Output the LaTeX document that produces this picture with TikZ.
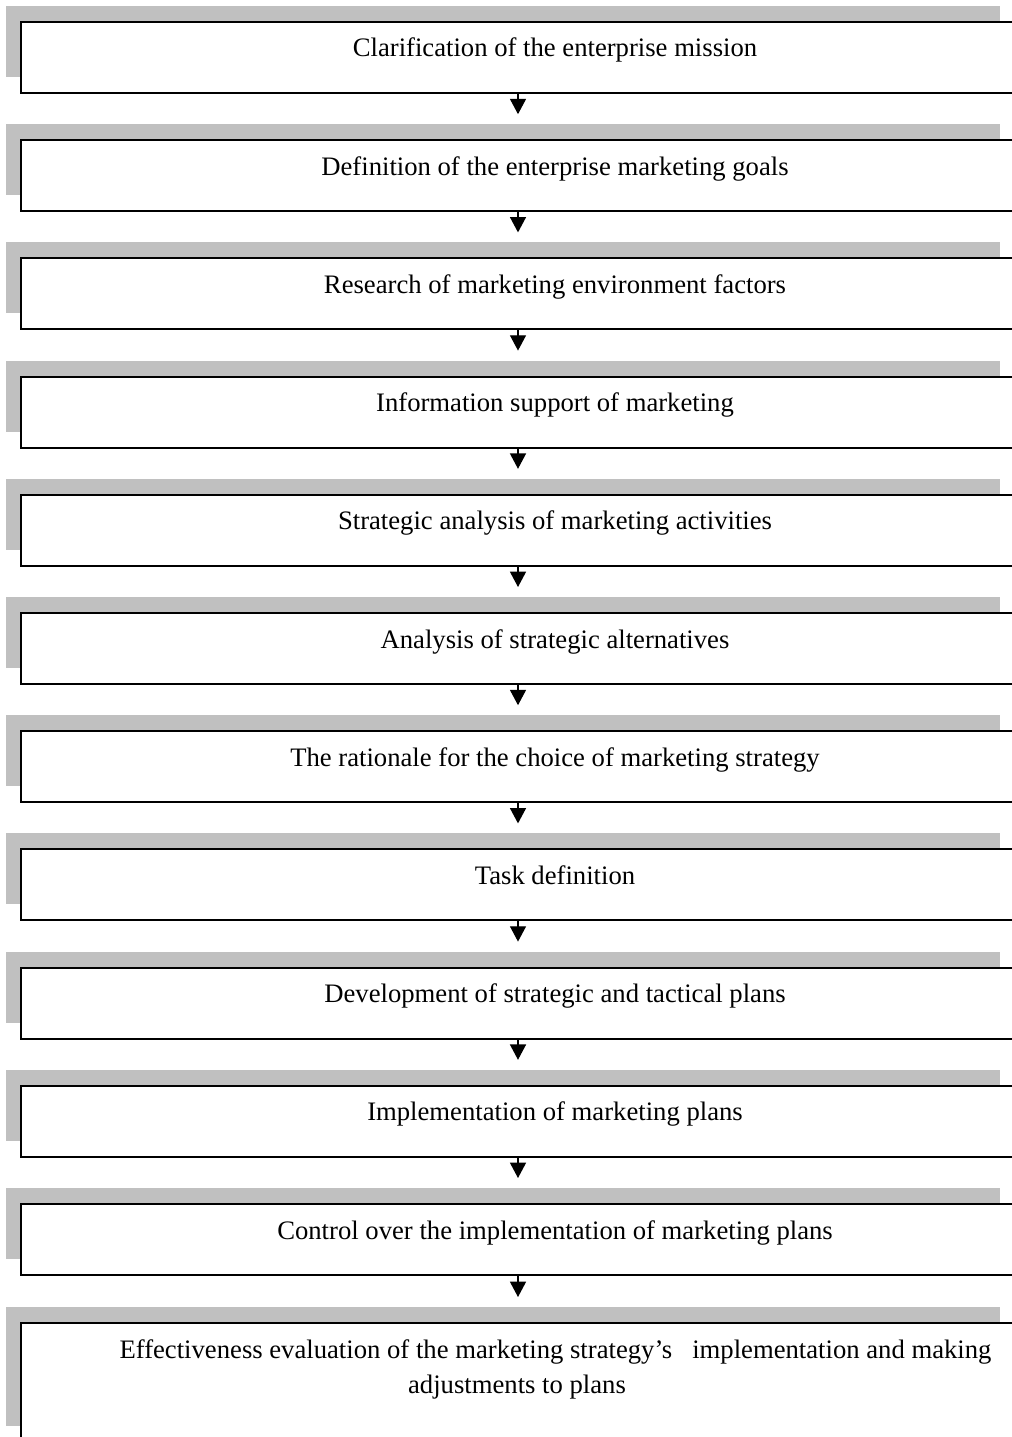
\documentclass[tikz,border=0pt]{standalone}
\usepackage{fontspec}
\setmainfont{Liberation Serif}
\usetikzlibrary{arrows.meta}
\definecolor{shadowgray}{RGB}{192,192,192}
\begin{document}
\begin{tikzpicture}[x=0.75pt,y=-0.75pt,
  shadowbox/.style={fill=shadowgray,draw=none,anchor=north west,inner sep=0pt,outer sep=0pt,
    minimum width=745.5pt,minimum height=#1},
  shadowbox/.default=53.25pt,
  stepbox/.style={draw=black,fill=white,line width=1.6pt,anchor=north west,inner sep=0pt,outer sep=0pt,
    minimum width=745.5pt,minimum height=#1},
  stepbox/.default=53.25pt,
  steptext/.style={anchor=base,inner sep=0pt,font=\fontsize{20pt}{26pt}\selectfont},
  flow/.style={line width=1pt,-{Triangle[width=12pt,length=11.5pt]},shorten >=7.5pt}]
\useasboundingbox (0,0) rectangle (1012,1437);
\begin{scope}
\clip (0,0) rectangle (1012,1437);
\coordinate (ax) at (518,0);
% boxes 1..11, pitch 118.2 px
\foreach \i/\txt in {
  1/Clarification of the enterprise mission,
  2/Definition of the enterprise marketing goals,
  3/Research of marketing environment factors,
  4/Information support of marketing,
  5/Strategic analysis of marketing activities,
  6/Analysis of strategic alternatives,
  7/The rationale for the choice of marketing strategy,
  8/Task definition,
  9/Development of strategic and tactical plans,
  10/Implementation of marketing plans,
  11/Control over the implementation of marketing plans}{
  \pgfmathsetmacro{\top}{22+(\i-1)*118.2}
  \node[shadowbox] (s\i) at (6,\top-16) {};
  \node[stepbox] (b\i) at (21,\top) {};
  \node[steptext] (t\i) at (555,\top+35) {\txt};
}
% last, taller box
\node[shadowbox=89.25pt] (s12) at (6,1307) {};
\node[stepbox=89.25pt] (b12) at (21,1323) {};
\node[steptext] (t12a) at (555.5,1358) {Effectiveness evaluation of the marketing strategy’s\ \ \ implementation and making};
\node[steptext] (t12b) at (517,1393) {adjustments to plans};
% connectors
\foreach \i [evaluate=\i as \j using int(\i+1)] in {1,...,11}{
  \draw[flow] (b\i.south -| ax) -- (s\j.north -| ax);
}
\end{scope}
\end{tikzpicture}
\end{document}
